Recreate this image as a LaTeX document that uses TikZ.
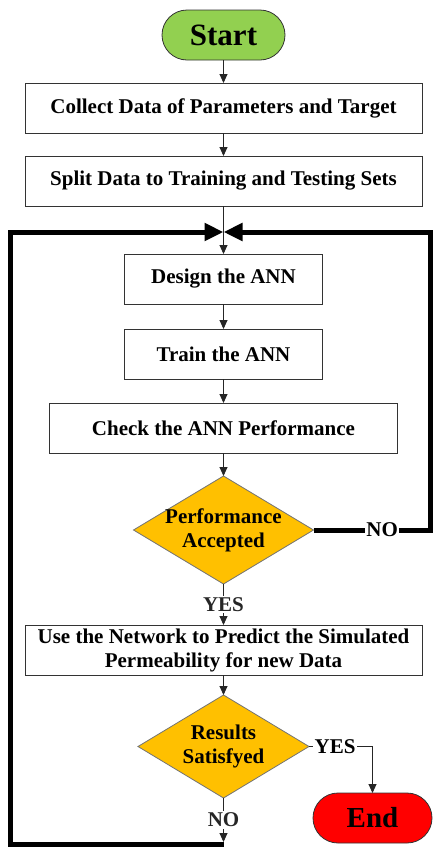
\documentclass[tikz,border=0pt]{standalone}
\usepackage{fontspec}
\setmainfont{Liberation Serif}
\usetikzlibrary{shapes.geometric,arrows.meta,positioning}
\definecolor{startgreen}{HTML}{92D050}
\definecolor{endred}{HTML}{FF0000}
\definecolor{decgold}{HTML}{FFC000}

\begin{document}
\begin{tikzpicture}[x=1pt, y=1pt,
    node distance=23pt,
    block/.style={rectangle, draw=black!80, line width=0.8pt, align=center, outer sep=0pt,
                  minimum height=50pt, font=\fontsize{21}{24}\selectfont\bfseries},
    term/.style={rectangle, draw=black!80, line width=0.8pt, rounded corners=25pt,
                 minimum height=50pt, inner sep=0pt, outer sep=0pt},
    decision/.style={diamond, draw=black!55, line width=0.8pt, fill=decgold,
                     aspect=1.67, inner sep=-3pt, outer sep=0pt, align=center,
                     font=\fontsize{21}{24}\selectfont\bfseries},
    lbl/.style={fill=white, inner sep=1.5pt, font=\fontsize{21}{24}\selectfont\bfseries},
    line/.style={draw, -{Triangle[length=9pt,width=8pt]}, line width=0.9pt, black!85},
    backline/.style={draw, -{Triangle[length=19pt,width=17pt]}, line width=5pt, line join=miter}
]
    \useasboundingbox (0,0) rectangle (433,-847);

    \node [term, fill=startgreen, minimum width=123pt, font=\fontsize{31}{31}\selectfont\bfseries]
          (start) at (223.5,-35) {Start};
    \node [block, minimum width=397pt, below=of start]        (collect) {Collect Data of Parameters and Target};
    \node [block, minimum width=397pt, below=of collect]      (split)   {Split Data to Training and Testing Sets};
    \node [block, minimum width=198pt, below=48pt of split]   (design)  {Design the ANN};
    \node [block, minimum width=198pt, below=25pt of design]  (train)   {Train the ANN};
    \node [block, minimum width=348pt, below=24pt of train]   (check)   {Check the ANN Performance};
    \node [decision, minimum width=180pt, minimum height=108pt, below=of check] (perf) {Performance\\Accepted};
    \node [block, minimum width=397pt, below=41pt of perf]    (use)     {Use the Network to Predict the Simulated\\Permeability for new Data};
    \node [decision, minimum width=171pt, minimum height=103pt, below=20pt of use] (results) {Results\\Satisfyed};
    \node [lbl, right=4pt of results.east] (yesres) {YES};
    \node [term, fill=endred, minimum width=119pt, font=\fontsize{29}{29}\selectfont\bfseries]
          (end) at (372.5,-818) {End};

    % loop back points
    \coordinate (merge) at (223.5,-232);
    \coordinate [below=44pt of results.south] (noend);
    \coordinate (bl) at (10.5,-844.5);
    \coordinate (tr) at (430,-232);

    \path [line] (start)   -- (collect);
    \path [line] (collect) -- (split);
    \path [line] (split)   -- (design);
    \path [line] (design)  -- (train);
    \path [line] (train)   -- (check);
    \path [line] (check)   -- (perf);
    \path [line] (perf)    -- node [lbl] {YES} (use);
    \path [line] (use)     -- (results);
    \draw [line width=0.9pt, black!85] (results.east) -- (yesres.west);
    \path [line] (yesres.east) -| (end.north);
    \path [line] (results.south) -- node [lbl] {NO} (noend);

    \path [backline] (bl -| noend) -- (bl) |- (merge);
    \path [backline] (perf.east) -- node [lbl, pos=0.59] {NO} (perf.east -| tr) -- (tr) -- (merge);
\end{tikzpicture}
\end{document}
